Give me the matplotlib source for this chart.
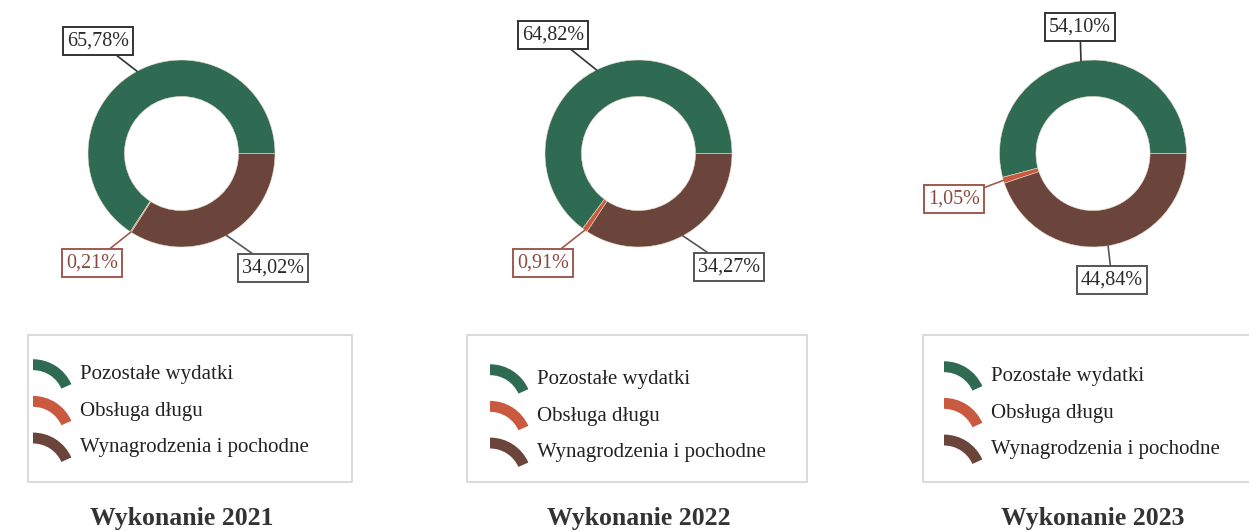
import matplotlib
matplotlib.use("Agg")
import matplotlib.pyplot as plt
import numpy as np
from matplotlib.patches import Wedge, Rectangle, Patch
from matplotlib.legend_handler import HandlerBase

plt.rcParams["font.family"] = ["Liberation Serif", "DejaVu Serif"]

categories = ["Pozostałe wydatki", "Obsługa długu", "Wynagrodzenia i pochodne"]
years = ["Wykonanie 2021", "Wykonanie 2022", "Wykonanie 2023"]
share_2021 = [65.78, 0.21, 34.02]
share_2022 = [64.82, 0.91, 34.27]
share_2023 = [54.10, 1.05, 44.84]
shares = [share_2021, share_2022, share_2023]

colors = ["#2f6b52", "#c95a40", "#6b453b"]
label_edge = ["#333333", "#a05a4e", "#555555"]
label_text = ["#2a2a2a", "#8a4a40", "#2a2a2a"]

W, H = 1249, 531
fig = plt.figure(figsize=(W / 100, H / 100), dpi=100)

# layout in image pixels (origin top-left)
centers = [(181.5, 153.5), (638.5, 153.5), (1093, 153.5)]
label_pos = [
    [(98, 41), (92, 263), (273, 268)],
    [(553, 35), (543, 263), (729, 267)],
    [(1080, 27), (954, 199), (1112, 280)],
]
legend_box = [(28, 335, 352, 482), (467, 335, 807, 482), (923, 335, 1260, 482)]
legend_anchor = [(33, 362), (490, 367), (944, 364)]
R_PX = 93.5
HALF = 115


class ArcHandler(HandlerBase):
    def create_artists(self, legend, orig_handle, xdescent, ydescent,
                       width, height, fontsize, trans):
        r = width * 1.12
        cx = -xdescent
        cy = -ydescent + height * 0.5 + 0.34 * width - r
        w = Wedge((cx, cy), r, 24, 90, width=r * 0.26,
                  facecolor=orig_handle.get_facecolor(), edgecolor="none",
                  transform=trans)
        return [w]


for i, vals in enumerate(shares):
    cx, cy = centers[i]
    ax = fig.add_axes([(cx - HALF) / W, 1 - (cy + HALF) / H, 2 * HALF / W, 2 * HALF / H])
    wedges, _ = ax.pie(vals, colors=colors, startangle=0, counterclock=True,
                       radius=1, wedgeprops=dict(width=0.39, edgecolor="#e8dcc8", linewidth=0.4))
    lim = HALF / R_PX
    ax.set_xlim(-lim, lim)
    ax.set_ylim(-lim, lim)
    ax.set_aspect("equal")
    ax.axis("off")

    for j, wdg in enumerate(wedges):
        mid = np.deg2rad((wdg.theta1 + wdg.theta2) / 2)
        lx, ly = label_pos[i][j]
        txt = f"{vals[j]:.2f}%".replace(".", ",")
        ax.annotate(txt, xy=(np.cos(mid), np.sin(mid)),
                    xytext=(lx, H - ly), textcoords="figure pixels",
                    ha="center", va="center", fontsize=14.5, color=label_text[j],
                    bbox=dict(boxstyle="square,pad=0.2", facecolor="white",
                              edgecolor=label_edge[j], linewidth=1.4),
                    arrowprops=dict(arrowstyle="-", color=label_edge[j], lw=1.2,
                                    shrinkA=0, shrinkB=0))

    x0, y0, x1, y1 = legend_box[i]
    fig.patches.append(Rectangle((x0 / W, 1 - y1 / H), (x1 - x0) / W, (y1 - y0) / H,
                                 transform=fig.transFigure, facecolor="none",
                                 edgecolor="#d4d4d4", linewidth=1.2))
    handles = [Patch(facecolor=c) for c in colors]
    ax_x, ax_y = legend_anchor[i]
    fig.legend(handles, categories, loc="upper left",
               bbox_to_anchor=(ax_x / W, 1 - ax_y / H),
               frameon=False, fontsize=15, handler_map={Patch: ArcHandler()},
               handlelength=1.8, handleheight=1.1, handletextpad=0.45,
               labelspacing=0.7, borderpad=0, borderaxespad=0,
               labelcolor="#222222")

    fig.text(cx / W, 1 - 519 / H, years[i], ha="center", va="center",
             fontsize=18.5, fontweight="bold", color="#333333")

fig.savefig("out.png", dpi=100, facecolor="white")
